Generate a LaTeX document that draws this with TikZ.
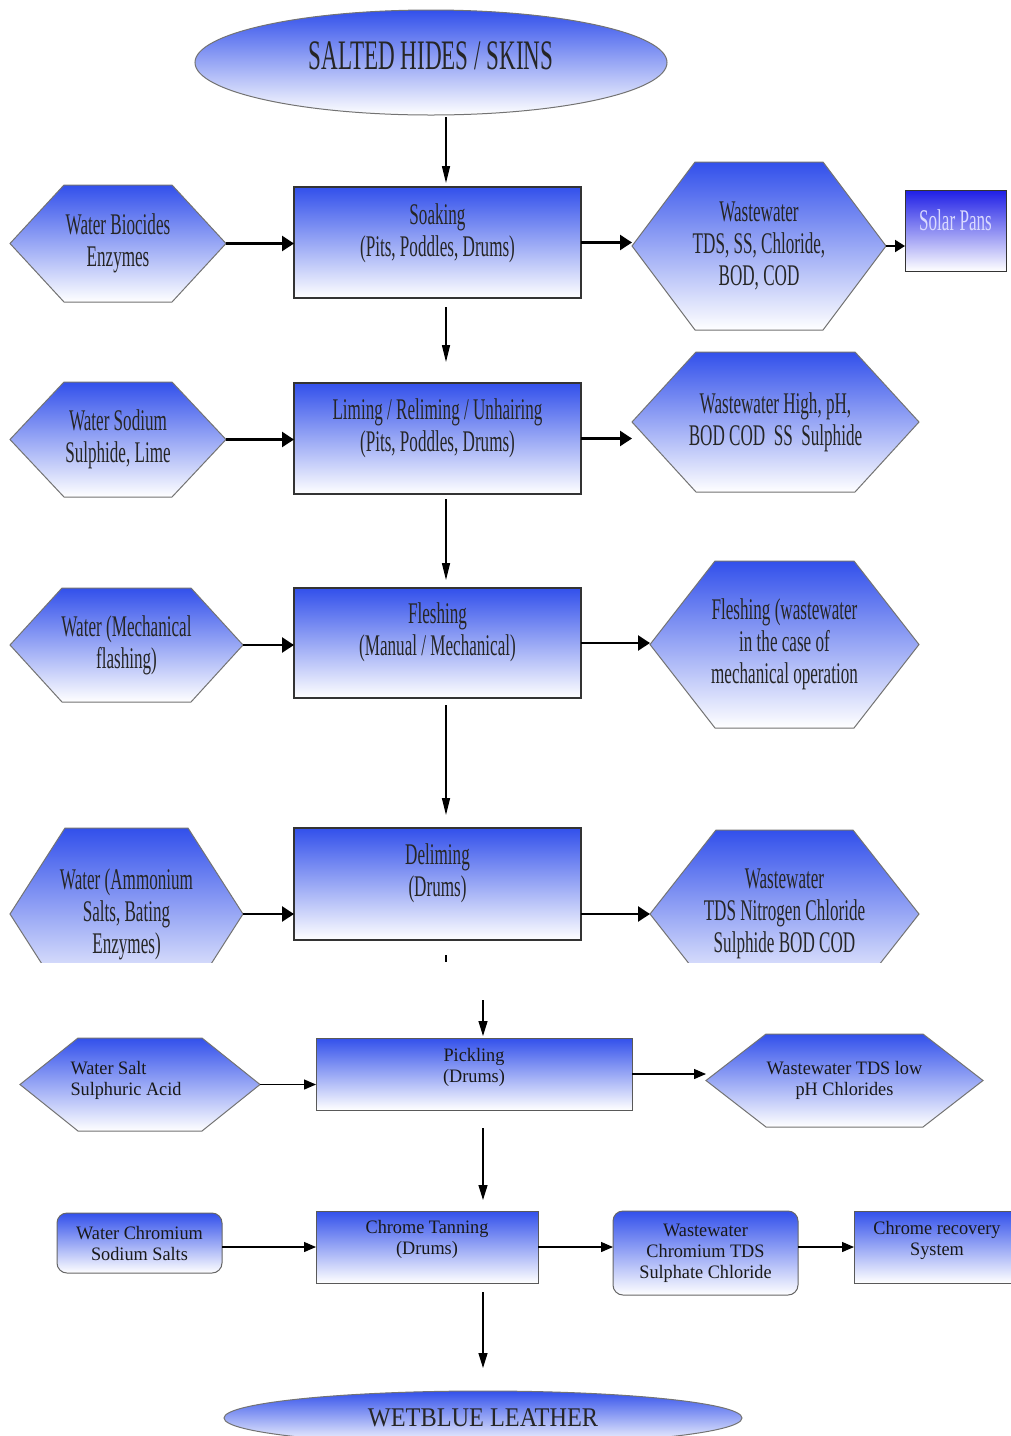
\documentclass[tikz,border=0pt]{standalone}
\usepackage{fontspec}
\setmainfont{Liberation Serif}
\newfontfamily\upf[FakeStretch=0.57]{Liberation Serif}
\newfontfamily\lowf[FakeStretch=0.96]{Liberation Serif}
\newfontfamily\bigf[FakeStretch=0.55]{Liberation Serif}
\newfontfamily\wetf[FakeStretch=0.9]{Liberation Serif}
\usetikzlibrary{shapes.geometric,arrows.meta,backgrounds}
\definecolor{hb}{RGB}{50,80,235}
\definecolor{sb}{RGB}{30,30,230}

\tikzset{
 utext/.style={font=\upf\fontsize{30}{32}\selectfont, align=center, text=black!85},
 ltext/.style={font=\lowf\fontsize{19}{21}\selectfont, align=center, text=black!90},
 procbox/.style={rectangle, draw=black!80, line width=1.2pt, top color=hb, bottom color=white, inner sep=0pt, outer sep=0pt},
 lbox/.style={rectangle, draw=black!65, line width=1pt, top color=hb, bottom color=white, inner sep=0pt, outer sep=0pt},
 rbox/.style={rectangle, rounded corners=10pt, draw=black!60, line width=1pt, top color=hb, bottom color=white, inner sep=0pt, outer sep=0pt},
 hexnode/.style={rectangle, inner sep=0pt, outer sep=0pt},
 hexfill/.style={draw=black!55, line width=1pt, top color=hb, bottom color=white},
 ovalnode/.style={ellipse, draw=black!55, line width=1pt, top color=hb, bottom color=white, inner sep=0pt, outer sep=0pt},
 sarrow/.style={line width=2.5pt, -{Triangle[length=12pt,width=15pt]}},
 varrow/.style={line width=1.3pt, -{Triangle[length=17pt,width=8pt]}},
 larrow/.style={line width=1.3pt, -{Triangle[length=12pt,width=10pt]}},
 lvarrow/.style={line width=1.3pt, -{Triangle[length=15pt,width=9pt]}},
}

\newcommand\hexbg[2]{%
 \begin{scope}[on background layer]
 \path[hexfill] (#1.west) -- ([xshift=#2pt]#1.north west) -- ([xshift=-#2pt]#1.north east) -- (#1.east) -- ([xshift=-#2pt]#1.south east) -- ([xshift=#2pt]#1.south west) -- cycle;
 \end{scope}}
\newcommand\hexbgcut[2]{%
 \begin{scope}[on background layer]
 \begin{scope}
 \clip (0,0) rectangle (1011,962);
 \path[hexfill] (#1.west) -- ([xshift=#2pt]#1.north west) -- ([xshift=-#2pt]#1.north east) -- (#1.east) -- ([xshift=-#2pt]#1.south east) -- ([xshift=#2pt]#1.south west) -- cycle;
 \end{scope}
 \end{scope}}

\begin{document}
\begin{tikzpicture}[x=1pt,y=-1pt]
\begin{scope}[on background layer]
\fill[white] (0,0) rectangle (1011,1436);
\end{scope}
\useasboundingbox (0,0) rectangle (1011,1436);
\clip (0,0) rectangle (1011,1436);

\coordinate (cu) at (446,0);
\coordinate (cl) at (483,0);

% top ellipse
\node[ovalnode, minimum width=472pt, minimum height=105pt,
 label={[font=\bigf\fontsize{42}{44}\selectfont, text=black!85, yshift=7pt]center:{SALTED HIDES / SKINS}}] (top) at (431,62.5) {};

% row 1
\node[procbox, minimum width=287pt, minimum height=111pt,
 label={[utext,yshift=9pt]center:{Soaking\\(Pits, Poddles, Drums)}}] (soak) at (437.5,242.5) {};
\node[hexnode, utext, minimum width=216pt, minimum height=117pt] (h1) at (118,243.5) {Water Biocides\\Enzymes};
\hexbg{h1}{54}
\node[hexnode, utext, minimum width=254pt, minimum height=168pt] (w1) at (759,246) {Wastewater\\TDS, SS, Chloride,\\BOD, COD};
\hexbg{w1}{63}
\node[rectangle, draw=black!80, line width=1pt, top color=sb, bottom color=white, inner sep=0pt, outer sep=0pt, minimum width=101pt, minimum height=81pt,
 label={[utext,text=white!85!blue,yshift=10pt]center:{Solar Pans}}] (solar) at (955.5,230.5) {};

% row 2
\node[procbox, minimum width=287pt, minimum height=111pt,
 label={[utext,yshift=10pt]center:{Liming / Reliming / Unhairing\\(Pits, Poddles, Drums)}}] (lime) at (437.5,438.5) {};
\node[hexnode, utext, minimum width=216pt, minimum height=115pt] (h2) at (118,439.5) {Water Sodium\\Sulphide, Lime};
\hexbg{h2}{54}
\node[hexnode, utext, minimum width=287pt, minimum height=140pt] (w2) at (775.5,422) {Wastewater High, pH,\\BOD COD\ \ SS\ \ Sulphide};
\hexbg{w2}{64}

% row 3
\node[procbox, minimum width=287pt, minimum height=110pt,
 label={[utext,yshift=11pt]center:{Fleshing\\(Manual / Mechanical)}}] (flesh) at (437.5,643) {};
\node[hexnode, utext, minimum width=233pt, minimum height=114pt] (h3) at (126.5,645) {Water (Mechanical\\flashing)};
\hexbg{h3}{52}
\node[hexnode, utext, minimum width=269pt, minimum height=167pt] (w3) at (784.5,644.5) {Fleshing (wastewater\\in the case of\\mechanical operation};
\hexbg{w3}{65}

% row 4
\node[procbox, minimum width=287pt, minimum height=112pt,
 label={[utext,yshift=11pt]center:{Deliming\\(Drums)}}] (delim) at (437.5,884) {};
\node[hexnode, utext, minimum width=233pt, minimum height=172pt] (h4) at (126.5,914) {Water (Ammonium\\Salts, Bating\\Enzymes)};
\hexbgcut{h4}{55}
\node[hexnode, utext, minimum width=269pt, minimum height=168pt] (w4) at (784.5,914) {Wastewater\\TDS Nitrogen Chloride\\Sulphide BOD COD};
\hexbgcut{w4}{66}

% row 5
\node[lbox, minimum width=316pt, minimum height=72pt,
 label={[ltext,yshift=6.5pt]center:{Pickling\\(Drums)}}] (pick) at (474,1074) {};
\node[hexnode, minimum width=240pt, minimum height=93pt,
 label={[ltext,align=left,xshift=-14pt,yshift=4pt]center:{Water Salt\\Sulphuric Acid}}] (h5) at (140,1084.5) {};
\hexbg{h5}{58}
\node[hexnode, ltext, minimum width=277pt, minimum height=93pt] (w5) at (844.5,1080.5) {Wastewater TDS low\\pH Chlorides};
\hexbg{w5}{60}

% row 6
\node[lbox, minimum width=222pt, minimum height=72pt,
 label={[ltext,yshift=7.5pt]center:{Chrome Tanning\\(Drums)}}] (chrome) at (427,1247) {};
\node[rbox, ltext, minimum width=165pt, minimum height=60pt] (r6a) at (139.5,1243) {Water Chromium\\Sodium Salts};
\node[rbox, ltext, minimum width=185pt, minimum height=84pt] (r6b) at (705.5,1253) {Wastewater\\Chromium TDS\\Sulphate Chloride};
\node[lbox, minimum width=166pt, minimum height=72pt,
 label={[ltext,yshift=7pt]center:{Chrome recovery\\System}}] (rec) at (937,1247) {};

% bottom ellipse
\node[ovalnode, minimum width=518pt, minimum height=54pt,
 label={[font=\wetf\fontsize{27}{29}\selectfont, text=black!85]center:{WETBLUE LEATHER}}] (wet) at (483,1418) {};

% vertical connectors (upper)
\draw[varrow, shorten <=2pt, shorten >=4pt] (top.south -| cu) -- (soak.north -| cu);
\draw[varrow, shorten <=9pt, shorten >=21pt] (soak.south -| cu) -- (lime.north -| cu);
\draw[varrow, shorten <=5pt, shorten >=8pt] (lime.south -| cu) -- (flesh.north -| cu);
\draw[varrow, shorten <=7pt, shorten >=13pt] (flesh.south -| cu) -- (delim.north -| cu);
\coordinate (cut) at (446,962);
\draw[line width=1.3pt, shorten <=15pt] (delim.south -| cu) -- (cut);

% vertical connectors (lower)
\coordinate (pin) at (483,1000);
\draw[lvarrow, shorten >=2pt] (pin) -- (pick.north -| cl);
\draw[lvarrow, shorten <=18pt, shorten >=11pt] (pick.south -| cl) -- (chrome.north -| cl);
\draw[lvarrow, shorten <=9pt, shorten >=23pt] (chrome.south -| cl) -- (wet.north -| cl);

% side connectors (upper)
\draw[sarrow] (h1.east) -- (h1.east -| soak.west);
\draw[sarrow] (soak.east) -- (soak.east -| w1.west);
\draw[line width=2pt, -{Triangle[length=10pt,width=12pt]}] (w1.east) -- (w1.east -| solar.west);
\draw[sarrow] (h2.east) -- (h2.east -| lime.west);
\draw[sarrow] (lime.east) -- (lime.east -| w2.west);
\draw[sarrow] (h3.east) -- (h3.east -| flesh.west);
\draw[sarrow] (flesh.east) -- (flesh.east -| w3.west);
\draw[sarrow] (h4.east) -- (h4.east -| delim.west);
\draw[sarrow] (w4.west -| delim.east) -- (w4.west);

% side connectors (lower)
\draw[larrow] (h5.east) -- (h5.east -| pick.west);
\draw[larrow] (pick.east) -- (pick.east -| w5.west);
\draw[larrow] (chrome.west -| r6a.east) -- (chrome.west);
\draw[larrow] (chrome.east) -- (chrome.east -| r6b.west);
\draw[larrow] (rec.west -| r6b.east) -- (rec.west);
\end{tikzpicture}
\end{document}
